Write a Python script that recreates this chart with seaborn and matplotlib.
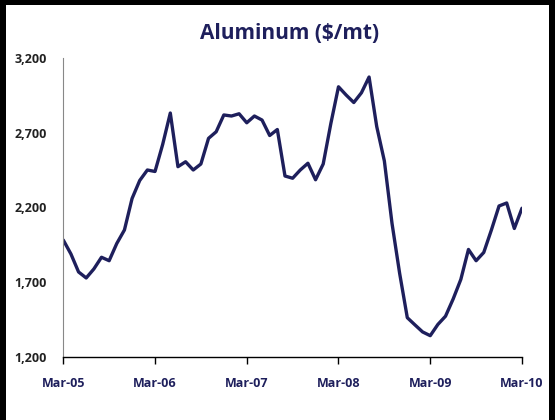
import matplotlib
matplotlib.use("Agg")
import matplotlib.pyplot as plt
import seaborn as sns
import pandas as pd
from matplotlib.patches import Rectangle

# ---- data (monthly, Mar-05 .. Mar-10) ----
months = list(range(61))
aluminum = [1983, 1890, 1770, 1730, 1790, 1868, 1845, 1960, 2050, 2260,
            2380, 2450, 2440, 2620, 2830, 2472, 2505, 2450, 2490, 2661,
            2705, 2817, 2810, 2825, 2765, 2810, 2783, 2680, 2720, 2410,
            2395, 2450, 2495, 2385, 2490, 2760, 3005, 2950, 2900, 2965,
            3070, 2740, 2510, 2094, 1760, 1465, 1417, 1370, 1345, 1420,
            1475, 1590, 1720, 1920, 1845, 1900, 2050, 2210, 2230, 2060,
            2195]
xtick_pos = [0, 12, 24, 36, 48, 60]
xtick_labels = ["Mar-05", "Mar-06", "Mar-07", "Mar-08", "Mar-09", "Mar-10"]
ytick_vals = [1200, 1700, 2200, 2700, 3200]
ytick_labels = ["1,200", "1,700", "2,200", "2,700", "3,200"]
title = "Aluminum ($/mt)"

df = pd.DataFrame({"month": months, "price": aluminum})

sns.set_style("white")
plt.rcParams["font.family"] = ["Open Sans", "DejaVu Sans"]

navy = "#1e1f5c"
fig = plt.figure(figsize=(5.55, 4.2), dpi=100)
ax = fig.add_axes([0.114, 0.149, 0.8265, 0.714])

sns.lineplot(data=df, x="month", y="price", ax=ax, color=navy, linewidth=2.4,
             solid_joinstyle="round", solid_capstyle="round")

ax.set_xlim(0, 60)
ax.set_ylim(1200, 3200)
ax.set_xticks(xtick_pos)
ax.set_xticklabels(xtick_labels, color=navy, fontweight="bold", fontsize=9)
ax.set_yticks(ytick_vals)
ax.set_yticklabels(ytick_labels, color="#222222", fontweight="bold", fontsize=9)
ax.set_xlabel("")
ax.set_ylabel("")

for s in ["top", "right"]:
    ax.spines[s].set_visible(False)
ax.spines["left"].set_color("#888888")
ax.spines["left"].set_linewidth(0.8)
ax.spines["bottom"].set_color("#000000")
ax.spines["bottom"].set_linewidth(1.0)
ax.tick_params(axis="x", which="both", bottom=True, length=5, width=1.0,
               color="#000000", pad=9, direction="out")
ax.tick_params(axis="y", which="both", left=False, length=0, pad=12)

fig.text(0.522, 0.921, title, ha="center", va="center", color=navy,
         fontsize=15, fontweight="bold")

# black frame on left, top, right
W, H = 555, 420
fig.patches.append(Rectangle((0, 0), 6 / W, 1, transform=fig.transFigure,
                             facecolor="black", edgecolor="none"))
fig.patches.append(Rectangle((0, 1 - 5 / H), 1, 5 / H, transform=fig.transFigure,
                             facecolor="black", edgecolor="none"))
fig.patches.append(Rectangle((1 - 6 / W, 0), 6 / W, 1, transform=fig.transFigure,
                             facecolor="black", edgecolor="none"))

fig.savefig("out.png", dpi=100)
